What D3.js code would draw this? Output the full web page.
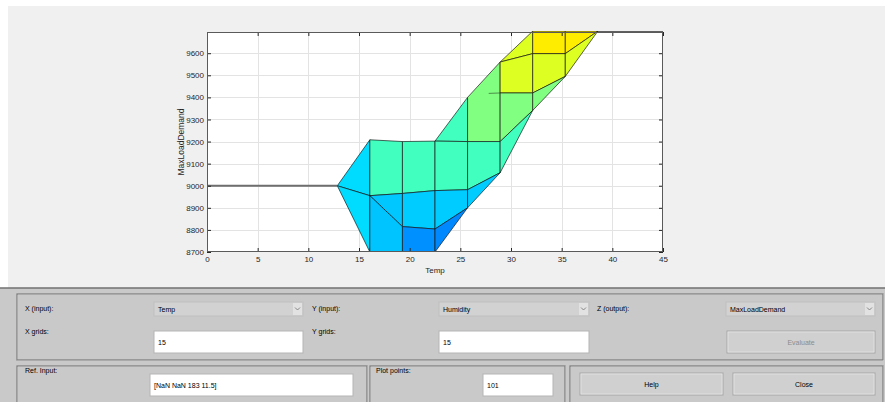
<!DOCTYPE html>
<html>
<head>
<meta charset="utf-8">
<script src="https://cdn.jsdelivr.net/npm/d3@7"></script>
<style>
  html, body { margin: 0; padding: 0; background: #ffffff; }
  svg { display: block; font-family: "Liberation Sans", Arial, sans-serif; }
</style>
</head>
<body>
<svg id="fig" width="885" height="402"></svg>
<script>
// Temp grid of the surface (15 points from 0 to 45)
const tempGrid = [0, 3.214, 6.429, 9.643, 12.857, 16.071, 19.286, 22.5, 25.714, 28.929, 32.143, 35.357, 38.571, 41.786, 45];

// Visible faces of the MaxLoadDemand surface seen along the Humidity axis.
// Each vertex is [tempGrid index, MaxLoadDemand]; faceCData holds the face colour values.
const faceCData = [9093, 9093, 9277, 9055, 9050, 9277, 9064, 8953, 9277, 9277, 9064, 8938,
                   9395, 9277, 9064, 9569, 9569, 9395, 9277, 9665, 9569, 9395, 9665, 9569];
const faceVerts = [
  [[4, 9000], [5, 9208], [5, 8955]],
  [[4, 9000], [5, 8955], [5, 8700]],
  [[5, 9208], [6, 9200], [6, 8965], [5, 8955]],
  [[5, 8955], [6, 8965], [6, 8815]],
  [[5, 8955], [6, 8815], [6, 8700], [5, 8700]],
  [[6, 9200], [7, 9202], [7, 8978], [6, 8965]],
  [[6, 8965], [7, 8978], [7, 8804], [6, 8815]],
  [[6, 8815], [7, 8804], [7, 8700], [6, 8700]],
  [[7, 9202], [8, 9400], [8, 9200]],
  [[7, 9202], [8, 9200], [8, 8982], [7, 8978]],
  [[7, 8978], [8, 8982], [8, 8900], [7, 8804]],
  [[7, 8804], [8, 8900], [7, 8700]],
  [[8, 9400], [9, 9560], [9, 9200], [8, 9200]],
  [[8, 9200], [9, 9200], [9, 9059], [8, 8982]],
  [[8, 8982], [9, 9059], [8, 8900]],
  [[9, 9560], [10, 9700], [10, 9598]],
  [[9, 9560], [10, 9598], [10, 9420], [9, 9420]],
  [[9, 9420], [10, 9420], [10, 9341], [9, 9200]],
  [[9, 9200], [10, 9341], [9, 9059]],
  [[10, 9700], [11, 9700], [11, 9598], [10, 9598]],
  [[10, 9598], [11, 9598], [11, 9495], [10, 9420]],
  [[10, 9420], [11, 9495], [10, 9341]],
  [[11, 9700], [12, 9700], [11, 9598]],
  [[11, 9598], [12, 9700], [11, 9495]]
];

// Flat parts of the surface that collapse to lines in this view
const flatLow = [[0, 9000], [1, 9000], [2, 9000], [3, 9000], [4, 9000]];
const flatHigh = [[12, 9700], [13, 9700], [14, 9700]];
// Partly hidden edge behind the green faces (temp, load)
const hiddenEdge = [[27.8, 9418], [28.929, 9420]];

const xTicks = [0, 5, 10, 15, 20, 25, 30, 35, 40, 45];
const yTicks = [8700, 8800, 8900, 9000, 9100, 9200, 9300, 9400, 9500, 9600];

const svg = d3.select("#fig");
const W = 885, H = 402;

// figure background
svg.append("rect").attr("width", W).attr("height", H).attr("fill", "#ffffff");
svg.append("rect").attr("x", 8).attr("y", 6).attr("width", W - 8).attr("height", 282).attr("fill", "#f0f0f0");

const plot = { left: 207, right: 663, top: 32, bottom: 252 };
const x = d3.scaleLinear().domain([0, 45]).range([plot.left, plot.right]);
const y = d3.scaleLinear().domain([8700, 9696]).range([plot.bottom, plot.top]);

// jet colour map
const jetStops = [0, 0.125, 0.375, 0.625, 0.875, 1];
const jetColors = ["#000080", "#0000ff", "#00ffff", "#ffff00", "#ff0000", "#800000"];
const jet = d3.scaleLinear().domain(jetStops).range(jetColors).interpolate(d3.interpolateRgb).clamp(true);
const cNorm = d3.scaleLinear().domain([8450, 10340]).range([0, 1]);
const faceColor = v => jet(cNorm(v));

// axes background
svg.append("rect").attr("x", plot.left).attr("y", plot.top)
  .attr("width", plot.right - plot.left).attr("height", plot.bottom - plot.top)
  .attr("fill", "#ffffff");

// grid
const grid = svg.append("g").attr("stroke", "#e3e3e3").attr("stroke-width", 1);
xTicks.slice(1, -1).forEach(t => grid.append("line")
  .attr("x1", Math.round(x(t)) + 0.5).attr("x2", Math.round(x(t)) + 0.5)
  .attr("y1", plot.top).attr("y2", plot.bottom));
yTicks.slice(1).forEach(t => grid.append("line")
  .attr("y1", Math.round(y(t)) + 0.5).attr("y2", Math.round(y(t)) + 0.5)
  .attr("x1", plot.left).attr("x2", plot.right));

// clip to axes box
svg.append("defs").append("clipPath").attr("id", "axclip")
  .append("rect").attr("x", plot.left).attr("y", plot.top - 1)
  .attr("width", plot.right - plot.left).attr("height", plot.bottom - plot.top + 1);

const surf = svg.append("g").attr("clip-path", "url(#axclip)");
const pt = ([i, z]) => [x(tempGrid[i]), y(z)];

surf.selectAll("path.face")
  .data(faceVerts.map((v, k) => ({ v, c: faceCData[k] })))
  .join("path")
  .attr("class", "face")
  .attr("d", d => d3.line()(d.v.map(pt)) + "Z")
  .attr("fill", d => faceColor(d.c))
  .attr("stroke", "rgba(20,20,20,0.75)")
  .attr("stroke-width", 0.9)
  .attr("stroke-linejoin", "round");

surf.append("path")
  .attr("d", d3.line()(flatLow.map(pt)))
  .attr("fill", "none").attr("stroke", "#6e6e6e").attr("stroke-width", 2);
surf.append("path")
  .attr("d", d3.line()(flatHigh.map(pt)))
  .attr("fill", "none").attr("stroke", "#303030").attr("stroke-width", 1.5);
surf.append("path")
  .attr("d", d3.line()(hiddenEdge.map(([t, z]) => [x(t), y(z)])))
  .attr("fill", "none").attr("stroke", "rgba(20,20,20,0.6)").attr("stroke-width", 0.8);

// axes with inward ticks on all four sides
const tickStyle = g => {
  g.selectAll(".domain").remove();
  g.selectAll(".tick line").attr("stroke", "#262626");
  g.selectAll(".tick text").attr("fill", "#262626").attr("font-size", 8);
};
svg.append("g").attr("transform", `translate(0,${plot.bottom})`)
  .call(d3.axisBottom(x).tickValues(xTicks).tickSizeInner(-4).tickSizeOuter(0).tickPadding(4))
  .call(tickStyle);
svg.append("g").attr("transform", `translate(0,${plot.top})`)
  .call(d3.axisTop(x).tickValues(xTicks).tickSizeInner(-4).tickSizeOuter(0).tickFormat(""))
  .call(tickStyle);
svg.append("g").attr("transform", `translate(${plot.left},0)`)
  .call(d3.axisLeft(y).tickValues(yTicks).tickFormat(d3.format("d"))
    .tickSizeInner(-4).tickSizeOuter(0).tickPadding(3))
  .call(tickStyle);
svg.append("g").attr("transform", `translate(${plot.right},0)`)
  .call(d3.axisRight(y).tickValues(yTicks).tickSizeInner(-4).tickSizeOuter(0).tickFormat(""))
  .call(tickStyle);

svg.append("rect").attr("x", plot.left + 0.5).attr("y", plot.top + 0.5)
  .attr("width", plot.right - plot.left - 1).attr("height", plot.bottom - plot.top - 1)
  .attr("fill", "none").attr("stroke", "#5a5a5a").attr("stroke-width", 1);

svg.append("text").attr("x", (plot.left + plot.right) / 2).attr("y", 273)
  .attr("text-anchor", "middle").attr("font-size", 8).attr("fill", "#262626").text("Temp");
svg.append("text")
  .attr("transform", `translate(184,${(plot.top + plot.bottom) / 2}) rotate(-90)`)
  .attr("text-anchor", "middle").attr("font-size", 8.5).attr("fill", "#262626").text("MaxLoadDemand");

// ---- control panel ----
const ui = svg.append("g").attr("font-size", 7).attr("fill", "#000");
ui.append("rect").attr("x", 0).attr("y", 288).attr("width", W).attr("height", H - 288).attr("fill", "#c9c9c9");
ui.append("line").attr("x1", 0).attr("x2", W).attr("y1", 288).attr("y2", 288)
  .attr("stroke", "#707070").attr("stroke-width", 1.5);

const panel = (x0, y0, w, h) => {
  ui.append("rect").attr("x", x0 + 0.5).attr("y", y0 + 0.5).attr("width", w).attr("height", h)
    .attr("fill", "none").attr("stroke", "#f2f2f2").attr("stroke-width", 1);
  ui.append("rect").attr("x", x0).attr("y", y0).attr("width", w).attr("height", h)
    .attr("fill", "none").attr("stroke", "#7a7a7a").attr("stroke-width", 1.2);
};
panel(17, 294, 866, 66);
panel(17, 366, 350, 40);
panel(370, 366, 195, 40);
panel(570, 366, 313, 40);

const label = (tx, ty, s) => ui.append("text").attr("x", tx).attr("y", ty).text(s);
label(25, 311, "X (input):");
label(312, 311, "Y (input):");
label(597, 311, "Z (output):");
label(25, 334, "X grids:");
label(312, 334, "Y grids:");
label(25, 373, "Ref. Input:");
label(376, 373, "Plot points:");

const dropdown = (x0, w, s) => {
  ui.append("rect").attr("x", x0).attr("y", 302).attr("width", w).attr("height", 14)
    .attr("fill", "#d2d2d2").attr("stroke", "#c0c0c0");
  ui.append("rect").attr("x", x0 + w - 10).attr("y", 303).attr("width", 9).attr("height", 12)
    .attr("fill", "#e2e2e2");
  ui.append("path").attr("d", `M${x0 + w - 8},${307.5} L${x0 + w - 5.5},${310} L${x0 + w - 3},${307.5}`)
    .attr("fill", "none").attr("stroke", "#707070").attr("stroke-width", 0.8);
  ui.append("text").attr("x", x0 + 4).attr("y", 312).text(s);
};
dropdown(154, 149, "Temp");
dropdown(439, 150, "Humidity");
dropdown(726, 149, "MaxLoadDemand");

const edit = (x0, y0, w, h, s) => {
  ui.append("rect").attr("x", x0).attr("y", y0).attr("width", w).attr("height", h)
    .attr("fill", "#ffffff").attr("stroke", "#b5b5b5");
  ui.append("text").attr("x", x0 + 4).attr("y", y0 + h / 2 + 2.5).text(s);
};
edit(154, 331, 149, 22, "15");
edit(439, 331, 150, 22, "15");
edit(150, 374, 203, 22, "[NaN NaN 183 11.5]");
edit(483, 374, 70, 22, "101");

const button = (x0, y0, w, h, s, col) => {
  ui.append("rect").attr("x", x0).attr("y", y0).attr("width", w).attr("height", h)
    .attr("fill", "#d0d0d0").attr("stroke", "#a8a8a8");
  ui.append("rect").attr("x", x0 + 1).attr("y", y0 + 1).attr("width", w - 2).attr("height", h - 2)
    .attr("fill", "none").attr("stroke", "#e4e4e4").attr("stroke-width", 0.8);
  ui.append("text").attr("x", x0 + w / 2).attr("y", y0 + h / 2 + 2.5)
    .attr("text-anchor", "middle").attr("fill", col).text(s);
};
button(727, 331, 148, 22, "Evaluate", "#8c8c8c");
button(580, 373, 143, 22, "Help", "#000");
button(733, 373, 142, 22, "Close", "#000");
</script>
</body>
</html>
